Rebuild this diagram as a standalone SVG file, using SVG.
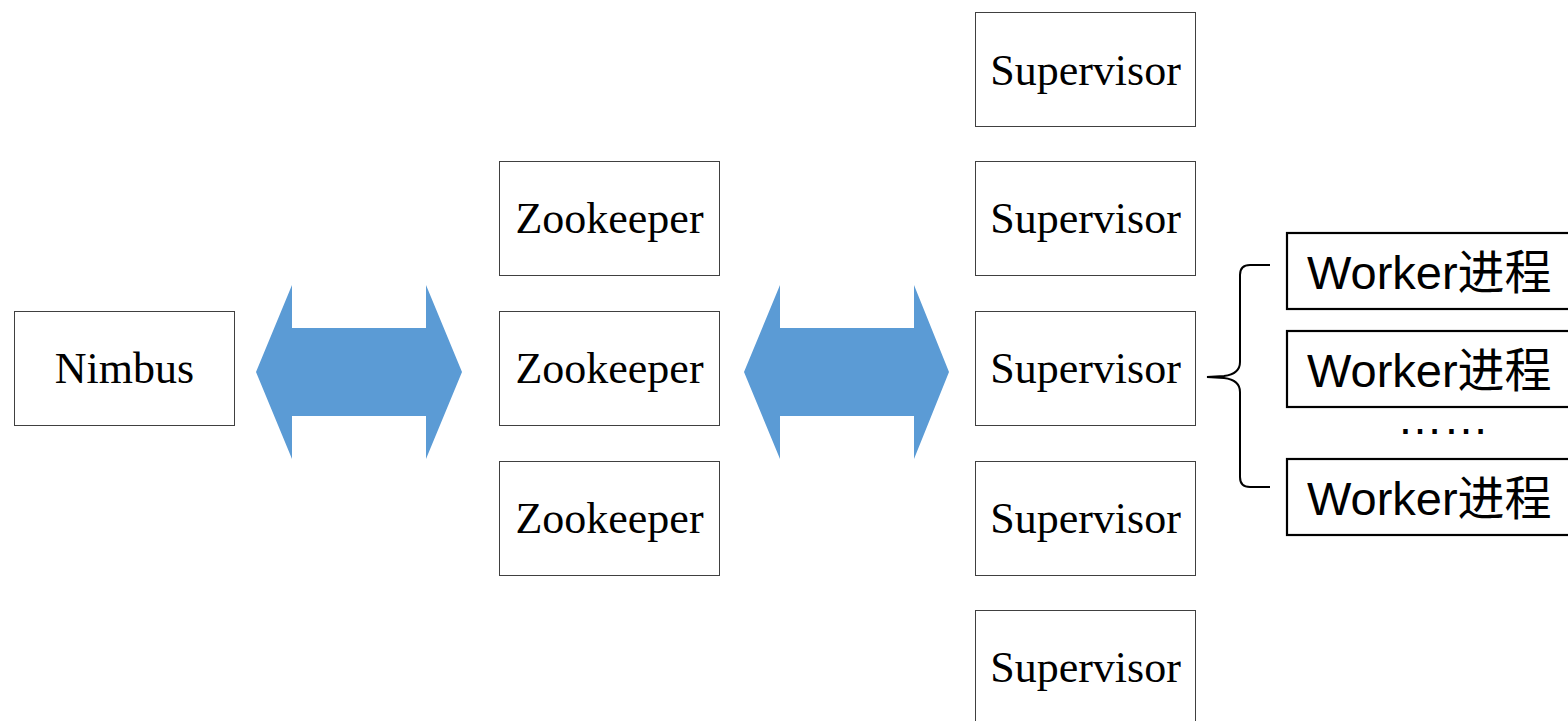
<svg xmlns="http://www.w3.org/2000/svg" width="1568" height="721" viewBox="0 0 1568 721">
<style>
.box{fill:#fff;stroke:#404040;stroke-width:1}
.wbox{fill:#fff;stroke:#000;stroke-width:2.2}
.t{font-family:"Liberation Serif","Times New Roman",serif;font-size:44px;fill:#000;text-anchor:middle}
.w{font-family:"Liberation Sans",Arial,"Noto Sans CJK SC",sans-serif;font-size:47px;fill:#000}
.arrow{fill:#5B9BD5}
</style>
<rect width="1568" height="721" fill="#fff"/>
<g id="connectors">
<polygon class="arrow" points="256,372 292,285 292,328 426,328 426,285 462,372 426,459 426,416 292,416 292,459"/>
<polygon class="arrow" points="744,372 780,285 780,328 914,328 914,285 949,372 914,459 914,416 780,416 780,459"/>
<path d="M1270,265 L1250,265 Q1240,265 1240,275 L1240,362 Q1240,374 1224,376 L1207,377 L1224,378 Q1240,380 1240,392 L1240,477 Q1240,487 1250,487 L1270,487" fill="none" stroke="#000" stroke-width="2"/>
</g>
<g id="nimbus"><rect class="box" x="14.5" y="311.5" width="220" height="114"/><text class="t" x="124.5" y="383">Nimbus</text></g>
<g id="zk1"><rect class="box" x="499.5" y="161.5" width="220" height="114"/><text class="t" x="609.5" y="233">Zookeeper</text></g>
<g id="zk2"><rect class="box" x="499.5" y="311.5" width="220" height="114"/><text class="t" x="609.5" y="383">Zookeeper</text></g>
<g id="zk3"><rect class="box" x="499.5" y="461.5" width="220" height="114"/><text class="t" x="609.5" y="533">Zookeeper</text></g>
<g id="sup1"><rect class="box" x="975.5" y="12.5" width="220" height="114"/><text class="t" x="1085.5" y="85">Supervisor</text></g>
<g id="sup2"><rect class="box" x="975.5" y="161.5" width="220" height="114"/><text class="t" x="1085.5" y="233">Supervisor</text></g>
<g id="sup3"><rect class="box" x="975.5" y="311.5" width="220" height="114"/><text class="t" x="1085.5" y="383">Supervisor</text></g>
<g id="sup4"><rect class="box" x="975.5" y="461.5" width="220" height="114"/><text class="t" x="1085.5" y="533">Supervisor</text></g>
<g id="sup5"><rect class="box" x="975.5" y="610.5" width="220" height="114"/><text class="t" x="1085.5" y="682">Supervisor</text></g>
<g id="worker1"><rect class="wbox" x="1287" y="233" width="300" height="76"/><text class="w" x="1307" y="289">Worker进程</text></g>
<g id="worker2"><rect class="wbox" x="1287" y="331" width="300" height="76"/><text class="w" x="1307" y="387">Worker进程</text></g>
<g id="dots"><text class="w" x="1443" y="434" text-anchor="middle" style="font-size:46px">……</text></g>
<g id="worker3"><rect class="wbox" x="1287" y="459" width="300" height="76"/><text class="w" x="1307" y="515">Worker进程</text></g>
</svg>
